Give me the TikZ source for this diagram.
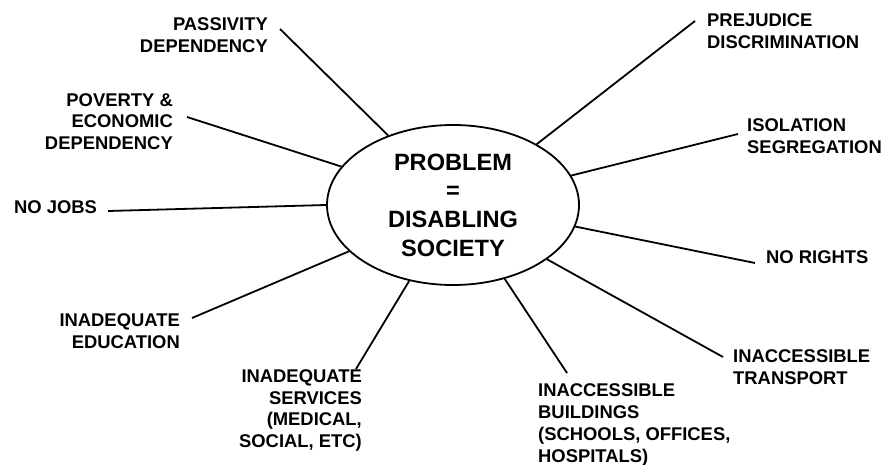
\documentclass[tikz,border=0pt]{standalone}
\usepackage{fontspec}
\setmainfont{Liberation Sans}
\usetikzlibrary{shapes.geometric}
\begin{document}
\begin{tikzpicture}[x=1pt,y=-1pt,
  lbl/.style={inner sep=0pt,font=\bfseries\fontsize{18.4}{21.7}\selectfont},
  lblr/.style={lbl,align=right,anchor=base east},
  lbll/.style={lbl,align=left,anchor=base west},
  conn/.style={line width=1.8pt,black},
  hub/.style={ellipse,draw,line width=1.8pt,minimum width=252pt,minimum height=160pt,inner sep=0pt,align=center,font=\bfseries\fontsize{23.6}{28.7}\selectfont}]
\useasboundingbox (0,0) rectangle (890,465);
\node[hub] (c) at (453,205) {PROBLEM\\=\\DISABLING\\SOCIETY};
\node[lblr] (pass) at (268,52.5) {PASSIVITY\\DEPENDENCY};
\node[lblr] (pov) at (173,149.5) {POVERTY \&\\ECONOMIC\\DEPENDENCY};
\node[lbll] (jobs) at (14,213) {NO JOBS};
\node[lbll] (prej) at (707,48.5) {PREJUDICE\\DISCRIMINATION};
\node[lbll] (iso) at (747,153.5) {ISOLATION\\SEGREGATION};
\node[lbll] (rights) at (766,263) {NO RIGHTS};
\node[lbll] (trans) at (733,384) {INACCESSIBLE\\TRANSPORT};
\node[lbll] (build) at (538,462) {INACCESSIBLE\\BUILDINGS\\(SCHOOLS, OFFICES,\\HOSPITALS)};
\node[lblr] (educ) at (180,348.5) {INADEQUATE\\EDUCATION};
\node[lblr] (serv) at (362,447.5) {INADEQUATE\\SERVICES\\(MEDICAL,\\SOCIAL, ETC)};
\coordinate (e1) at (280,29);
\coordinate (e2) at (187,117);
\coordinate (e3) at (108,211);
\coordinate (e4) at (695,21);
\coordinate (e5) at (738,134);
\coordinate (e6) at (755,263);
\coordinate (e7) at (723,357);
\coordinate (e8) at (567,373);
\coordinate (e9) at (356,369);
\coordinate (e10) at (192,318);
\draw[conn] (c.133.7) -- (e1);
\draw[conn] (c.161.7) -- (e2);
\draw[conn] (c.180.9) -- (e3);
\draw[conn] (c.36.6) -- (e4);
\draw[conn] (c.14.8) -- (e5);
\draw[conn] (c.-10.5) -- (e6);
\draw[conn] (c.-30.5) -- (e7);
\draw[conn] (c.-55.3) -- (e8);
\draw[conn] (c.-120.5) -- (e9);
\draw[conn] (c.-156.5) -- (e10);
\end{tikzpicture}
\end{document}
